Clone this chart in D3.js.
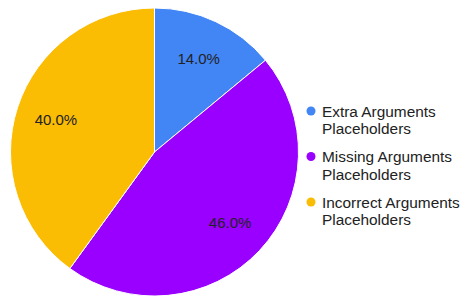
<!DOCTYPE html>
<html lang="en">
<head>
  <meta charset="UTF-8" />
  <title>Placeholder errors</title>
  <script src="https://d3js.org/d3.v7.min.js"></script>
  <style>
    body {
      margin: 0;
      font-family: "Liberation Sans", Arial, sans-serif;
      background: #fff;
    }
    svg {
      display: block;
    }
    .slice {
      stroke: #fff;
      stroke-width: 1px;
    }
    .pct {
      font-size: 15px;
      fill: #222;
      text-anchor: middle;
    }
    .legend text {
      font-size: 15.4px;
      fill: #222;
    }
  </style>
</head>
<body>
<svg width="461" height="298"></svg>
<script>
const categories = [
  ["Extra Arguments", "Placeholders"],
  ["Missing Arguments", "Placeholders"],
  ["Incorrect Arguments", "Placeholders"]
];
const values = [14, 46, 40];
const colors = ["#4285f4", "#9900ff", "#fbbc04"];

const svg = d3.select("svg");
const cx = 154.5, cy = 152, r = 144;

const total = d3.sum(values);
const pie = d3.pie().sort(null).value(d => d)(values);
const arc = d3.arc().innerRadius(0).outerRadius(r);
const labelArc = d3.arc().innerRadius(r * 0.72).outerRadius(r * 0.72);

const g = svg.append("g").attr("transform", `translate(${cx},${cy})`);

g.selectAll(".slice")
  .data(pie)
  .join("path")
  .attr("class", "slice")
  .attr("fill", (d, i) => colors[i])
  .attr("d", arc);

// percent labels, baseline shifted so the caps sit centred on the point
g.selectAll(".pct")
  .data(pie)
  .join("text")
  .attr("class", "pct")
  .attr("transform", d => `translate(${labelArc.centroid(d)})`)
  .attr("y", 5.3)
  .text(d => (d.data / total * 100).toFixed(1) + "%");

// legend
const legend = svg.append("g")
  .attr("class", "legend")
  .attr("transform", "translate(311,111)");

const item = legend.selectAll("g")
  .data(categories)
  .join("g")
  .attr("transform", (d, i) => `translate(0,${i * 45.5})`);

item.append("circle")
  .attr("r", 4.5)
  .attr("fill", (d, i) => colors[i]);

item.append("text")
  .attr("y", 5.5)
  .selectAll("tspan")
  .data(d => d)
  .join("tspan")
  .attr("x", 11)
  .attr("dy", (d, i) => i ? 17.5 : 0)
  .text(d => d);
</script>
</body>
</html>
